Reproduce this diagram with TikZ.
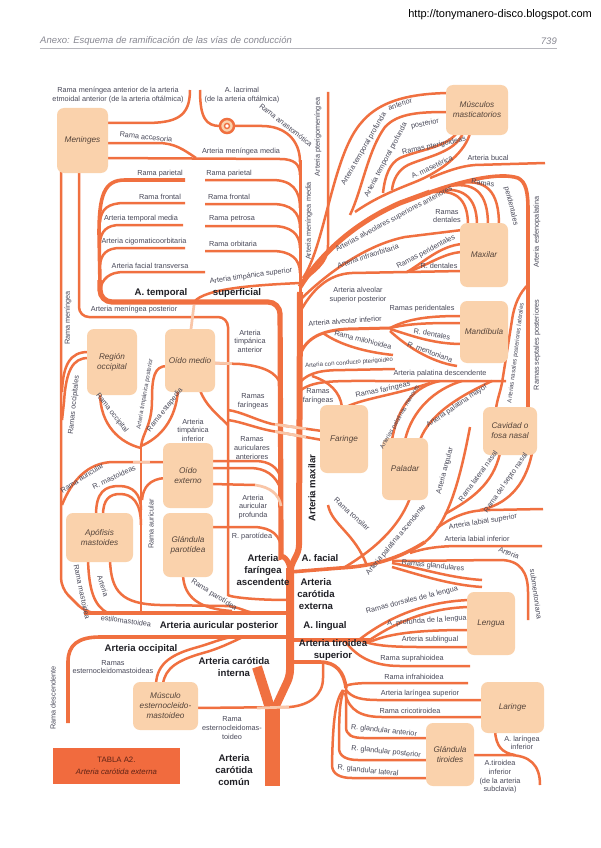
\documentclass[tikz,border=0pt]{standalone}
\usepackage{fontspec}
\setmainfont{Liberation Sans}
\newfontfamily\cond{Liberation Sans}
\definecolor{arte}{RGB}{240,112,64}
\definecolor{palido}{RGB}{249,198,168}
\definecolor{boxc}{RGB}{250,210,172}
\definecolor{boxt}{RGB}{85,68,58}
\definecolor{lab}{RGB}{72,72,88}
\definecolor{oscuro}{RGB}{32,32,38}
\definecolor{tabc}{RGB}{241,107,62}
\definecolor{tabt}{RGB}{95,35,22}
\definecolor{hdr}{RGB}{135,135,145}
\newcommand\lbf{\cond\fontsize{7.3}{8.6}\selectfont}
\newcommand\lbs{\cond\fontsize{6.1}{7.5}\selectfont}
\newcommand\bdf{\cond\bfseries\fontsize{9.6}{12}\selectfont}
\newcommand\orgf{\cond\itshape\fontsize{8.2}{10}\selectfont}

\begin{document}
\begin{tikzpicture}[x=1pt, y=-1pt,
    art/.style={draw=arte, line width=2.5pt},
    artm/.style={draw=arte, line width=3.6pt},
    artk/.style={draw=arte, line width=5.2pt},
    hid/.style={draw=palido, line width=2.7pt},
    organ/.style={fill=boxc, rounded corners=7pt, font=\orgf, text=boxt, align=center, inner sep=1pt},
    lbl/.style={font=\lbf, text=lab, align=center, inner sep=0pt},
    tronco/.style={font=\bdf, text=oscuro, align=center, inner sep=0pt},
  ]
\useasboundingbox (0,0) rectangle (601,848);
\fill[white] (0,0) rectangle (601,848);
\node[anchor=east, font=\fontsize{11}{12}\selectfont, inner sep=0pt] (web) at (592,15) {http://tonymanero-disco.blogspot.com};
\node[anchor=west, font=\itshape\fontsize{9.5}{11}\selectfont, text=hdr, inner sep=0pt] (anexo) at (40,41) {Anexo: Esquema de ramificación de las vías de conducción};
\node[anchor=east, font=\itshape\fontsize{9.5}{11}\selectfont, text=hdr, inner sep=0pt] (pag) at (557,41) {739};
\draw[hdr!60, line width=0.6pt] (40,48) -- (557,48);

\draw[art] (190,90) .. controls (190,117) and (176,123) .. (145,123) -- (104,123);
\draw[art] (200,90) .. controls (200,118) and (206,126) .. (220,126);
\draw[art] (234,126) -- (262,126) .. controls (285,126) and (300,140) .. (300,162);
\draw[art] (104,143) -- (158,143) .. controls (175,143) and (184,150) .. (196,158);
\draw[art] (104,158) -- (280,159) .. controls (294,159) and (300,164) .. (300,175);
\draw[art, line width=3pt] (300,160) -- (300,300);
\draw[art] (328,92) -- (328,245) .. controls (328,265) and (312,272) .. (301,283);
\draw[art] (205,180) -- (272,180) .. controls (292,180) and (300,190) .. (300,208);
\draw[art] (205,204) -- (272,204) .. controls (291,204) and (300,212) .. (300,228);
\draw[art] (205,226) -- (272,226) .. controls (291,226) and (300,234) .. (300,248);
\draw[art] (205,251) -- (272,251) .. controls (291,251) and (300,259) .. (300,273);
\draw[art] (300,283) .. controls (258,285) and (205,288) .. (194,302);
\draw[artm] (99,235) .. controls (99,195) and (104,180) .. (125,180) -- (185,180);
\draw[art] (100,222) .. controls (101,209) and (108,203) .. (125,203) -- (185,203);
\draw[art] (100,242) .. controls (101,231) and (107,225) .. (120,225) -- (183,225);
\draw[art] (100,265) .. controls (101,254) and (107,248) .. (120,248) -- (185,248);
\draw[art] (100,290) .. controls (102,279) and (109,272) .. (124,272) -- (205,272);
\draw[artm] (99,232) -- (100,285);
\draw[art, rounded corners=10pt] (79,170) -- (79,317) -- (228,317) -- (228,585) .. controls (228,596) and (245,600) .. (290,600);
\draw[art, rounded corners=10pt] (61,170) -- (61,588) -- (86,613) -- (100,613);

\draw[art] (88,352) .. controls (70,352) and (63,365) .. (62,392);
\draw[art] (88,358) .. controls (73,358) and (66,370) .. (64,402) -- (62,420);
\draw[art] (62,505) .. controls (72,480) and (88,463) .. (112,462) -- (165,462);
\draw[art] (100,393) .. controls (100,425) and (120,443) .. (141,448);
\draw[art] (167,366) .. controls (154,366) and (152,378) .. (152,400) .. controls (152,425) and (143,432) .. (141,446);
\draw[art] (178,390) .. controls (176,420) and (160,438) .. (141,446);
\draw[art] (141,613) -- (141,444);
\draw[art] (165,478) .. controls (150,479) and (143,487) .. (142,500);
\draw[art] (96,515) .. controls (96,492) and (105,486) .. (119,486) .. controls (133,486) and (141,494) .. (141,510);
\draw[art] (103,515) .. controls (103,499) and (110,494) .. (120,494) .. controls (132,494) and (141,502) .. (141,525);
\draw[art] (88,560) .. controls (89,590) and (94,606) .. (108,613);
\draw[art] (110,560) .. controls (111,592) and (122,604) .. (160,605) -- (225,606) .. controls (238,606) and (245,612) .. (255,613);
\draw[art] (183,575) .. controls (184,598) and (200,609) .. (232,611);
\draw[art] (200,390) .. controls (205,405) and (218,415) .. (228,425);
\draw[art] (213,363) -- (240,364) .. controls (262,366) and (278,372) .. (281,386);
\draw[art] (228,410) .. controls (242,412) and (256,420) .. (272,424) -- (322,431);
\draw[art] (228,420) .. controls (242,422) and (256,428) .. (272,431) -- (322,440);
\draw[art] (211,461) -- (255,461) .. controls (270,461) and (279,468) .. (281,480);
\draw[art] (211,468) -- (250,468) .. controls (265,468) and (276,475) .. (281,490);
\draw[art] (211,484) -- (255,485);
\draw[art] (211,527) -- (255,527) .. controls (272,528) and (280,535) .. (282,550);
\draw[artm] (84,613) -- (290,613);
\draw[artm] (68,723) -- (68,662) .. controls (68,645) and (78,637) .. (100,637) -- (290,637);
\draw[art] (156,684) .. controls (157,663) and (172,654) .. (198,647) .. controls (212,643) and (220,639) .. (232,637);
\draw[art] (163,684) .. controls (165,668) and (178,660) .. (203,653) .. controls (218,649) and (230,643) .. (243,637);
\draw[art] (196,708) -- (290,707) .. controls (310,705) and (323,695) .. (323,678) -- (323,662);

\draw[art] (303,278) .. controls (322,250) and (330,180) .. (350,140) .. controls (365,110) and (390,94) .. (448,93);
\draw[art] (350,215) .. controls (362,190) and (368,150) .. (385,127) .. controls (398,113) and (420,112) .. (448,112);
\draw[art] (457,133) .. controls (445,148) and (418,150) .. (400,158) .. controls (390,163) and (385,175) .. (383,193);
\draw[art] (463,133) .. controls (455,153) and (425,157) .. (408,165) .. controls (398,170) and (393,180) .. (392,190);
\draw[art] (470,133) .. controls (466,150) and (445,170) .. (415,182) .. controls (395,190) and (375,198) .. (355,212);
\draw[art] (545,163) -- (475,165) .. controls (460,166) and (445,172) .. (430,178);
\draw[draw=arte, line width=5pt] (300,287) .. controls (318,258) and (350,225) .. (400,203) -- (430,192);
\draw[artm] (430,192) .. controls (465,180) and (500,172) .. (518,178) .. controls (526,182) and (528,192) .. (528,210) -- (528,409);
\draw[art] (428,193) .. controls (455,188) and (468,198) .. (468,225);
\draw[art] (435,191) .. controls (462,186) and (477,196) .. (477,225);
\draw[art] (445,187) .. controls (475,180) and (488,193) .. (488,225);
\draw[art] (455,184) .. controls (487,177) and (499,192) .. (499,225);
\draw[art] (300,300) .. controls (325,275) and (365,245) .. (405,237) -- (462,230);
\draw[art] (300,312) .. controls (312,290) and (328,274) .. (352,273) -- (407,272);
\draw[art] (407,272) .. controls (424,262) and (440,246) .. (462,244);
\draw[art] (407,272) .. controls (427,266) and (443,253) .. (462,252);
\draw[art] (407,272) -- (462,271);
\draw[art, line width=3pt] (300,355) .. controls (306,338) and (322,330) .. (348,329) -- (390,328);
\draw[art] (390,328) .. controls (410,318) and (430,316) .. (462,316);
\draw[art] (390,328) .. controls (412,323) and (432,323) .. (462,323);
\draw[art] (390,329) .. controls (410,335) and (432,344) .. (462,344);
\draw[art] (390,331) .. controls (405,345) and (430,362) .. (457,366);
\draw[art] (323,333) .. controls (340,345) and (365,352) .. (393,355);
\draw[art] (300,382) .. controls (310,372) and (322,370) .. (345,370) -- (395,369);
\draw[art] (301,390) .. controls (315,380) and (335,381) .. (380,381) -- (506,381);
\draw[art] (312,376) .. controls (330,382) and (340,392) .. (342,407);
\draw[art] (528,285) .. controls (520,292) and (514,305) .. (512,320) -- (502,383) .. controls (500,393) and (497,400) .. (496,409);
\draw[art] (440,381) .. controls (415,386) and (398,405) .. (392,440);
\draw[art] (462,381) .. controls (435,389) and (412,410) .. (405,440);
\draw[art] (492,381) .. controls (462,395) and (430,413) .. (420,440);
\draw[art] (346,407) .. controls (365,398) and (395,395) .. (430,383);

\draw[artm] (290,572) -- (340,568) .. controls (375,566) and (400,558) .. (425,542);
\draw[art] (425,542) .. controls (448,524) and (460,480) .. (470,427);
\draw[art] (328,505) .. controls (332,525) and (355,533) .. (367,566);
\draw[art] (345,567) .. controls (370,552) and (398,530) .. (410,498);
\draw[art] (392,561) -- (500,560) .. controls (520,560) and (528,572) .. (528,592) -- (528,620);
\draw[art] (392,563) .. controls (420,568) and (450,578) .. (482,580);
\draw[art] (392,567) .. controls (420,575) and (450,585) .. (482,587);
\draw[art] (410,553) .. controls (425,548) and (440,546) .. (460,546) -- (542,546);
\draw[art] (437,528) .. controls (455,515) and (470,510) .. (490,510) -- (543,509);
\draw[art] (480,510) .. controls (505,505) and (525,488) .. (532,453);
\draw[art] (445,514) .. controls (470,500) and (493,485) .. (500,453);

\draw[artm] (290,640) -- (372,640);
\draw[art] (360,639) .. controls (385,620) and (420,602) .. (469,600);
\draw[art] (368,641) .. controls (392,625) and (425,608) .. (469,607);
\draw[art] (372,641) .. controls (392,633) and (420,630) .. (469,630);
\draw[art] (362,641) .. controls (382,648) and (405,647) .. (469,647);
\draw[art] (345,641) .. controls (356,656) and (372,666) .. (400,666) -- (470,666);
\draw[artm] (290,662) -- (320,662) .. controls (336,662) and (344,672) .. (346,688);
\draw[art] (345,686) .. controls (350,684) and (358,683) .. (372,683) -- (468,683);
\draw[art] (346,690) .. controls (352,698) and (362,700) .. (378,700) -- (483,700);
\draw[art] (345,693) .. controls (349,711) and (362,717) .. (382,717) -- (483,717);
\draw[art] (346,688) -- (346,727) .. controls (346,735) and (352,738) .. (364,738) -- (428,738);
\draw[art] (344,690) .. controls (340,700) and (339,710) .. (339,748) .. controls (339,756) and (346,760) .. (358,760) -- (428,760);
\draw[art] (343,690) .. controls (336,700) and (333,715) .. (332,765) .. controls (332,774) and (340,778) .. (352,778) -- (428,778);
\draw[art] (472,755) -- (508,755) .. controls (530,755) and (540,765) .. (540,785);
\draw[art] (495,731) .. controls (496,746) and (502,753) .. (515,755);

\draw[artk, rounded corners=12pt] (100,280) -- (100,302) -- (280,302) -- (281,545) .. controls (281,555) and (290,558) .. (290,572);
\draw[draw=arte, line width=6pt] (300,292) -- (299,545) .. controls (299,556) and (291,560) .. (290,574);
\draw[draw=arte, line width=8pt, rounded corners=6pt] (290,568) -- (290,676) -- (275,708);
\draw[draw=arte, line width=10pt] (270,708) -- (257,667);
\fill[arte] (265,702) rectangle (280,786);

\draw[hid] (194,305) -- (191,329);
\draw[hid] (213,363) -- (232,363.6);
\draw[hid] (275,424.4) -- (306,428.8);
\draw[hid] (275,431.5) -- (306,437.1);
\draw[hid] (255,485) .. controls (270,487) and (279,494) .. (281,506);
\draw[hid] (133,462) -- (150,462);
\draw[hid] (257,708) -- (289,707);

\draw[art, fill=boxc] (227,126) circle (7);
\draw[draw=arte, line width=1.4pt, fill=white] (227,126) circle (2.5);

\node[organ, minimum width=51pt, minimum height=65pt] (men) at (82.5,140.5) {Meninges};
\node[organ, minimum width=62pt, minimum height=50pt] (masc) at (477,110) {Músculos\\masticatorios};
\node[organ, minimum width=48pt, minimum height=64pt] (maxi) at (484,255) {Maxilar};
\node[organ, minimum width=48pt, minimum height=62pt] (mand) at (484,332) {Mandíbula};
\node[organ, minimum width=54pt, minimum height=48pt] (cav) at (510,431) {Cavidad o\\fosa nasal};
\node[organ, minimum width=50pt, minimum height=66pt] (occ) at (112,362) {Región\\occipital};
\node[organ, minimum width=50pt, minimum height=63pt] (omed) at (190,360.5) {Oído medio};
\node[organ, minimum width=48pt, minimum height=68pt] (far) at (344,439) {Faringe};
\node[organ, minimum width=46pt, minimum height=62pt] (pal) at (405,469) {Paladar};
\node[organ, minimum width=50pt, minimum height=65pt] (oext) at (188,475.5) {Oído\\externo};
\node[organ, minimum width=50pt, minimum height=64pt] (parot) at (188,545) {Glándula\\parotídea};
\node[organ, minimum width=67pt, minimum height=49pt] (apof) at (99.5,537.5) {Apófisis\\mastoides};
\node[organ, minimum width=48pt, minimum height=63pt] (leng) at (491,623.5) {Lengua};
\node[organ, minimum width=65pt, minimum height=48pt] (ecm) at (165.5,706) {Músculo\\esternocleido-\\mastoideo};
\node[organ, minimum width=63pt, minimum height=51pt] (lar) at (512.5,707.5) {Laringe};
\node[organ, minimum width=48pt, minimum height=63pt] (tir) at (450,754.5) {Glándula\\tiroides};
\node[fill=tabc, minimum width=127pt, minimum height=36pt, align=center, text=tabt, font=\cond\fontsize{7.8}{12}\selectfont] (tabla) at (116.5,766) {TABLA A2.\\\textit{Arteria carótida externa}};

\node[lbl] (menant) at (118,95) {Rama meníngea anterior de la arteria\\etmoidal anterior (de la arteria oftálmica)};
\node[lbl] (lacr) at (242,95) {A. lacrimal\\(de la arteria oftálmica)};
\node[lbl, rotate=-38] (anast) at (286,125) {Rama anastomótica};
\node[lbl, rotate=90] (pterig) at (318,137) {Arteria pterigomeníngea};
\node[lbl, rotate=-6] (acces) at (146,137) {Rama accesoria};
\node[lbl] (mmedh) at (241,152) {Arteria meníngea media};
\node[lbl, rotate=90] (mmedv) at (309,221) {Arteria meníngea media};
\node[lbl] (parL) at (160,174) {Rama parietal};
\node[lbl] (froL) at (160,197) {Rama frontal};
\node[lbl] (tmed) at (141,219) {Arteria temporal media};
\node[lbl] (cigo) at (144,242) {Arteria cigomaticoorbitaria};
\node[lbl] (ftra) at (150,266) {Arteria facial transversa};
\node[lbl] (parR) at (229,174) {Rama parietal};
\node[lbl] (froR) at (229,197) {Rama frontal};
\node[lbl] (petr) at (232,219) {Rama petrosa};
\node[lbl] (orbi) at (233,244) {Rama orbitaria};
\node[lbl, rotate=8] (tsup) at (251,276) {Arteria timpánica superior};
\node[tronco] (tsup1) at (161,293) {A. temporal};
\node[tronco] (tsup2) at (237,293) {superficial};
\node[lbl] (mpos) at (134,310) {Arteria meníngea posterior};
\node[lbl, rotate=90] (rmen) at (68,318) {Rama meníngea};
\node[lbl] (tant) at (250,341) {Arteria\\timpánica\\anterior};
\node[lbl, rotate=84] (rocc) at (74,405) {Ramas occipitales};
\node[lbl, rotate=-52] (rocc1) at (112,413) {Rama occipital};
\node[lbl, rotate=80, font=\lbs] (tpos) at (145,394) {Arteria timpánica posterior};
\node[lbl, rotate=52] (esta) at (165,410) {Rama estapedia};
\node[lbl] (tinf) at (193,430) {Arteria\\timpánica\\inferior};
\node[lbl] (rfar) at (253,401) {Ramas\\faríngeas};
\node[lbl] (raur) at (252,448) {Ramas\\auriculares\\anteriores};
\node[lbl, rotate=33] (raur1) at (82,478) {Rama auricular};
\node[lbl, rotate=25] (rmast) at (114,477) {R. mastoideas};
\node[lbl, rotate=90] (raur2) at (151,524) {Rama auricular};
\node[lbl] (aprof) at (253,507) {Arteria\\auricular\\profunda};
\node[lbl] (rparo) at (252,537) {R. parotídea};
\node[lbl, rotate=-78] (rmast1) at (82,592) {Rama mastoidea};
\node[lbl, rotate=-72] (estil1) at (103,586) {Arteria};
\node[lbl, rotate=-8] (estil2) at (126,621) {estilomastoidea};
\node[lbl, rotate=-32] (rparo1) at (214,595) {Rama parotídea};
\node[tronco] (fasc) at (263,570) {Arteria\\faríngea\\ascendente};
\node[tronco] (apost) at (219,626) {Arteria auricular posterior};
\node[tronco] (aocc) at (141,649) {Arteria occipital};
\node[lbl] (recm) at (113,667) {Ramas\\esternocleidomastoideas};
\node[tronco] (cint) at (234,667) {Arteria carótida\\interna};
\node[lbl, rotate=90] (rdesc) at (53,698) {Rama descendente};
\node[lbl] (recm1) at (232,728) {Rama\\esternocleidomas-\\toideo};
\node[tronco] (ccom) at (234,770) {Arteria\\carótida\\común};
\node[tronco, rotate=90] (amax) at (312,488) {Arteria maxilar};
\node[tronco] (afac) at (320,558) {A. facial};
\node[tronco] (cext) at (316,594) {Arteria\\carótida\\externa};
\node[tronco] (alin) at (325,626) {A. lingual};
\node[tronco] (tirs) at (333,650) {Arteria tiroidea\\superior};

\node[lbl, rotate=60] (tpa1) at (364,149) {Arteria temporal profunda};
\node[lbl, rotate=18] (tpa2) at (400,104) {anterior};
\node[lbl, rotate=62] (tpp1) at (386,160) {Arteria temporal profunda};
\node[lbl, rotate=12] (tpp2) at (425,124) {posterior};
\node[lbl, rotate=12] (pteri) at (434,146) {Ramas pterigoideas};
\node[lbl, rotate=25] (mase) at (432,167) {A. masetérica};
\node[lbl] (buca) at (488,158) {Arteria bucal};
\node[lbl, rotate=28] (alsa) at (394,219) {Arterias alveolares superiores anteriores};
\node[lbl, rotate=-8] (per1a) at (483,183) {Ramas};
\node[lbl, rotate=-76] (per1b) at (511,206) {peridentales};
\node[lbl] (rden) at (447,216) {Ramas\\dentales};
\node[lbl, rotate=18] (infra) at (368,256) {Arteria infraorbitaria};
\node[lbl, rotate=28] (peri1) at (426,252) {Ramas peridentales};
\node[lbl] (den1) at (439,266) {R. dentales};
\node[lbl, rotate=90] (esfe) at (537,232) {Arteria esfenopalatina};
\node[lbl] (alsp) at (358,295) {Arteria alveolar\\superior posterior};
\node[lbl, rotate=4] (alvi) at (345,321) {Arteria alveolar inferior};
\node[lbl] (peri2) at (422,309) {Ramas peridentales};
\node[lbl, rotate=-14] (milo) at (363,340) {Rama milohioidea};
\node[lbl, rotate=-10] (den2) at (432,334) {R. dentales};
\node[lbl, rotate=-20] (ment) at (430,352) {R. mentoniana};
\node[lbl, rotate=4, font=\lbs] (ptgo) at (349,363) {Arteria con conducto pterigoideo};
\node[lbl] (pdes) at (440,374) {Arteria palatina descendente};
\node[lbl, rotate=83, font=\lbs] (nasl) at (516,353) {Arterias nasales posteriores laterales};
\node[lbl, rotate=90] (sept) at (537,345) {Ramas septales posteriores};
\node[lbl] (rfar2) at (318,396) {Ramas\\faríngeas};
\node[lbl, rotate=12] (rfar3) at (383,390) {Ramas faríngeas};
\node[lbl, rotate=60, font=\lbs] (pmen) at (400,417) {Arterias palatinas menores};
\node[lbl, rotate=34] (pmay) at (457,406) {Arteria palatina mayor};
\node[lbl, rotate=-42] (tons) at (352,514) {Rama tonsilar};
\node[lbl, rotate=50] (pasc) at (396,540) {Arteria palatina ascendente};
\node[lbl, rotate=75] (angu) at (445,471) {Arteria angular};
\node[lbl, rotate=54] (lnas) at (478,476) {Rama lateral nasal};
\node[lbl, rotate=55] (snas) at (506,483) {Rama del septo nasal};
\node[lbl, rotate=9] (lsup) at (483,522) {Arteria labial superior};
\node[lbl] (linf) at (477,539) {Arteria labial inferior};
\node[lbl, rotate=-22] (subm1) at (509,553) {Arteria};
\node[lbl, rotate=-82] (subm2) at (536,594) {submentoniana};
\node[lbl, rotate=-6] (glan) at (433,566) {Ramas glandulares};
\node[lbl, rotate=14] (dors) at (412,600) {Ramas dorsales de la lengua};
\node[lbl, rotate=4] (prof) at (427,621) {A. profunda de la lengua};
\node[lbl] (subl) at (430,640) {Arteria sublingual};
\node[lbl] (supr) at (412,659) {Rama suprahioidea};
\node[lbl] (infr) at (414,677) {Rama infrahioidea};
\node[lbl] (lsu) at (420,694) {Arteria laríngea superior};
\node[lbl] (cric) at (410,711) {Rama cricotiroidea};
\node[lbl, rotate=-6] (gant) at (384,731) {R. glandular anterior};
\node[lbl, rotate=-6] (gpos) at (386,752) {R. glandular posterior};
\node[lbl, rotate=-6] (glat) at (368,771) {R. glandular lateral};
\node[lbl] (linf2) at (522,743) {A. laríngea\\inferior};
\node[lbl] (tinf2) at (500,777) {A.tiroidea\\inferior\\(de la arteria\\subclavia)};
\end{tikzpicture}
\end{document}
